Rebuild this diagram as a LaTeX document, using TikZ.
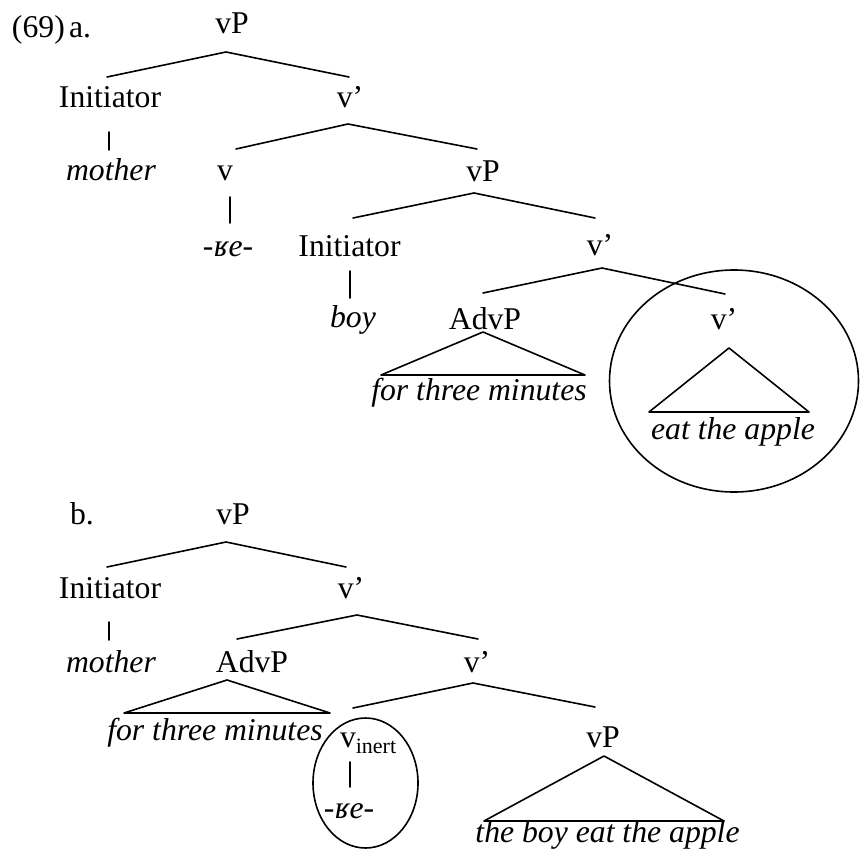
\documentclass[tikz,border=0pt]{standalone}
\usepackage{fontspec}
\setmainfont{Liberation Serif}
\tikzset{
  lbl/.style={anchor=base, inner sep=0pt, outer sep=0pt, font=\fontsize{31.7}{36}\selectfont},
  lblw/.style={lbl, anchor=base west},
  edge/.style={line width=1.6pt, line cap=round, line join=round},
  ring/.style={line width=1.6pt}
}
\begin{document}
\begin{tikzpicture}[x=1pt, y=-1pt]
\useasboundingbox (0,0) rectangle (859,861);
% ---------------- (69) a. ----------------
\node[lblw] (ex) at (12,38) {(69)};
\node[lblw] (exa) at (69,38) {a.};
\node[lbl] (avP1) at (232,34) {vP};
\node[lbl] (aIni1) at (110,108) {Initiator};
\node[lbl] (avb1) at (350,108) {v’};
\node[lbl] (amother) at (111,180) {\itshape mother};
\node[lbl] (av) at (225,180) {v};
\node[lbl] (avP2) at (483,182) {vP};
\node[lbl] (are) at (228,256) {-\textit{ʁe}-};
\node[lbl] (aIni2) at (349.5,256) {Initiator};
\node[lbl] (avb2) at (600,255) {v’};
\node[lbl] (aboy) at (353,327) {\itshape boy};
\node[lbl] (aAdvP) at (485,329) {AdvP};
\node[lbl] (avb3) at (724,329) {v’};
\node[lbl] (aftm) at (479,400) {\itshape for three minutes};
\node[lbl] (aeat) at (733,439) {\itshape eat the apple};

\coordinate (a1top) at (226,52);
\coordinate (a1l) at (107,77);
\coordinate (a1r) at (349,77);
\coordinate (a2top) at (348,124);
\coordinate (a2l) at (236,149);
\coordinate (a2r) at (477,149);
\coordinate (a3top) at (474,193);
\coordinate (a3l) at (353,218);
\coordinate (a3r) at (595,218);
\coordinate (a4top) at (602,268);
\coordinate (a4l) at (483,293);
\coordinate (a4r) at (725,294);
\coordinate (ab1t) at (109,132); \coordinate (ab1b) at (109,150);
\coordinate (ab2t) at (230,197); \coordinate (ab2b) at (230,223);
\coordinate (ab3t) at (350,271); \coordinate (ab3b) at (350,298);
\coordinate (at1a) at (483,332); \coordinate (at1l) at (381,375); \coordinate (at1r) at (585,375);
\coordinate (at2a) at (729,348); \coordinate (at2l) at (649,412); \coordinate (at2r) at (809,412);

\draw[edge] (a1l) -- (a1top) -- (a1r);
\draw[edge] (a2l) -- (a2top) -- (a2r);
\draw[edge] (a3l) -- (a3top) -- (a3r);
\draw[edge] (a4l) -- (a4top) -- (a4r);
\draw[edge] (ab1t) -- (ab1b);
\draw[edge] (ab2t) -- (ab2b);
\draw[edge] (ab3t) -- (ab3b);
\draw[edge] (at1a) -- (at1l) -- (at1r) -- cycle;
\draw[edge] (at2a) -- (at2l) -- (at2r) -- cycle;
\draw[ring] (734,381) ellipse [x radius=124.5, y radius=111];

% ---------------- b. ----------------
\node[lblw] (exb) at (70,524) {b.};
\node[lbl] (bvP1) at (233,524) {vP};
\node[lbl] (bIni1) at (110,598) {Initiator};
\node[lbl] (bvb1) at (351,598) {v’};
\node[lbl] (bmother) at (111,672) {\itshape mother};
\node[lbl] (bAdvP) at (252,672) {AdvP};
\node[lbl] (bvb2) at (477,672) {v’};
\node[lbl] (bftm) at (215,740) {\itshape for three minutes};
\node[lblw] (bvin) at (340,747) {v\textsubscript{\fontsize{22}{24}\selectfont inert}};
\node[lbl] (bvP2) at (603,747) {vP};
\node[lbl] (bre) at (349,818) {-\textit{ʁe}-};
\node[lbl] (bboy) at (607.5,842) {\itshape the boy eat the apple};

\coordinate (b1top) at (226,542);
\coordinate (b1l) at (107,567);
\coordinate (b1r) at (346,567);
\coordinate (b2top) at (357,615);
\coordinate (b2l) at (237,639);
\coordinate (b2r) at (478,639);
\coordinate (b3top) at (473,683);
\coordinate (b3l) at (353,708);
\coordinate (b3r) at (595,707);
\coordinate (bb1t) at (109,622); \coordinate (bb1b) at (109,640);
\coordinate (bb2t) at (350,762); \coordinate (bb2b) at (350,787);
\coordinate (bt1a) at (227,680); \coordinate (bt1l) at (124,713); \coordinate (bt1r) at (330,713);
\coordinate (bt2a) at (604,756); \coordinate (bt2l) at (484,821); \coordinate (bt2r) at (724,821);

\draw[edge] (b1l) -- (b1top) -- (b1r);
\draw[edge] (b2l) -- (b2top) -- (b2r);
\draw[edge] (b3l) -- (b3top) -- (b3r);
\draw[edge] (bb1t) -- (bb1b);
\draw[edge] (bb2t) -- (bb2b);
\draw[edge] (bt1a) -- (bt1l) -- (bt1r) -- cycle;
\draw[edge] (bt2a) -- (bt2l) -- (bt2r) -- cycle;
\draw[ring] (365.5,783) ellipse [x radius=52.5, y radius=65];
\end{tikzpicture}
\end{document}
